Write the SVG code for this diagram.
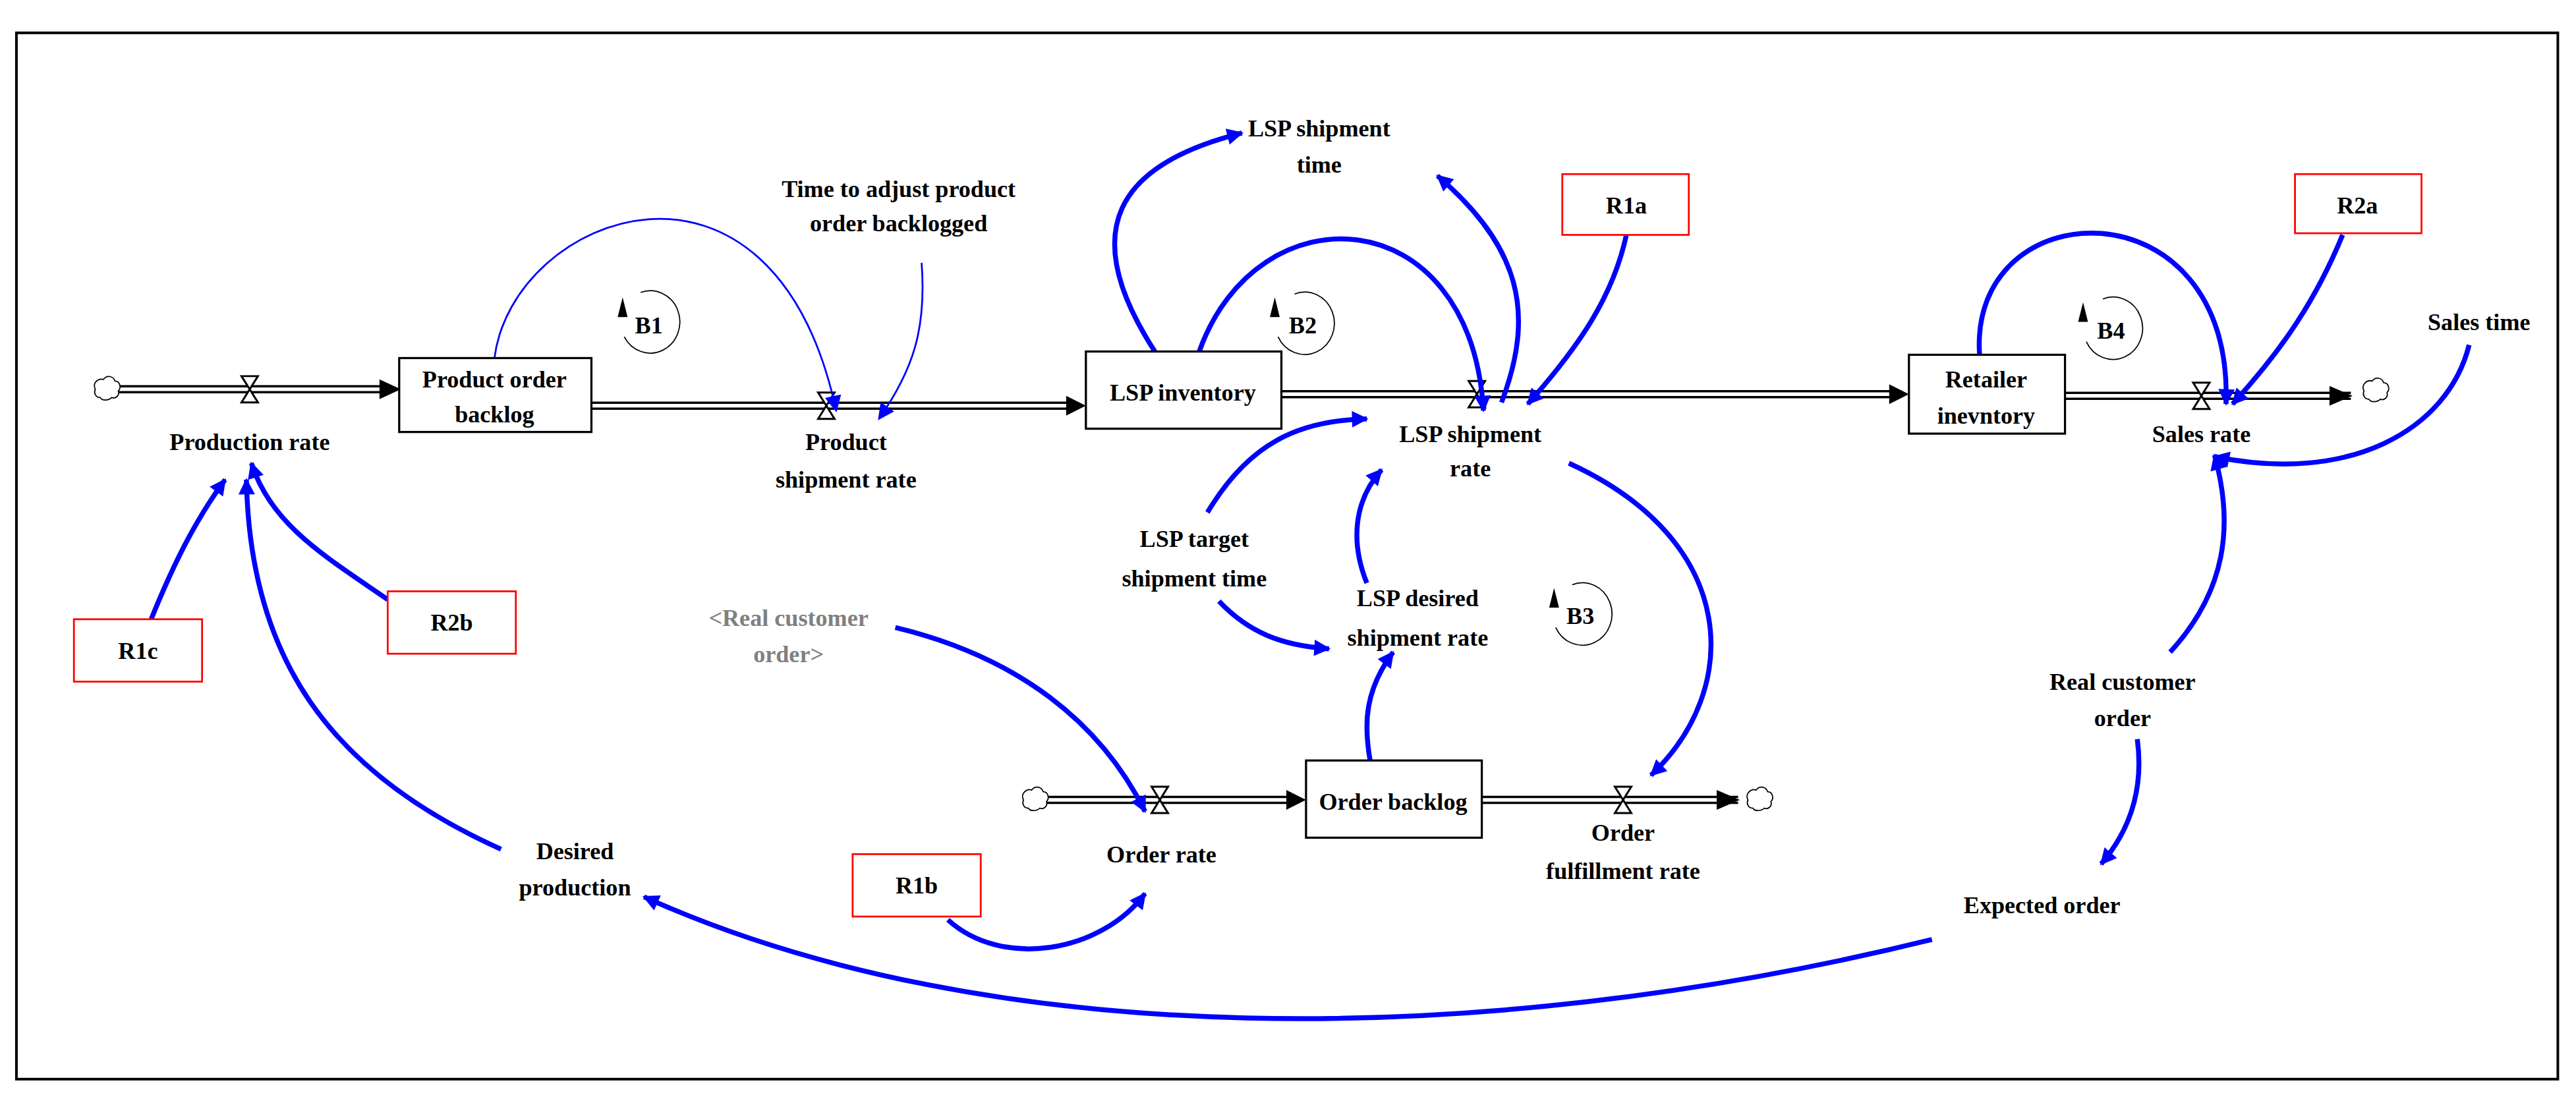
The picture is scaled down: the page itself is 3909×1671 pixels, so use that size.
<svg xmlns="http://www.w3.org/2000/svg" width="3909" height="1671" viewBox="0 0 3909 1671">
<style>
text{font-family:"Liberation Serif","DejaVu Serif",serif;font-weight:bold;font-size:14.5px;fill:#000;text-anchor:middle}
.gray{fill:#808080}
.stock{fill:#fff;stroke:#000;stroke-width:1.3}
.rbox{fill:#fff;stroke:#f00;stroke-width:1.1}
.lk{fill:none;stroke:#0000ff;stroke-width:3;marker-end:url(#ba)}
.thin{stroke-width:1.1}
.po{fill:none;stroke:#000;stroke-width:5}
.pi{fill:none;stroke:#fff;stroke-width:2.2}
.valve{fill:#fff;stroke:#000;stroke-width:1.2}
.cloud{fill:#fff;stroke:#000;stroke-width:0.7}
.loop{fill:none;stroke:#000;stroke-width:0.7}
</style>
<defs>
<marker id="ba" viewBox="0 0 10 10" refX="9" refY="5" markerWidth="14" markerHeight="10" markerUnits="userSpaceOnUse" orient="auto"><path d="M0,0 L10,5 L0,10 Z" fill="#0000ff"/></marker>
</defs>
<rect width="3909" height="1671" fill="#fff"/>
<g transform="scale(2.4929)">
<rect x="10" y="20" width="1547" height="637" fill="none" stroke="#000" stroke-width="1.6"/>
<g id="flows">
<path class="po" d="M72,237 H232"/><path class="pi" d="M72,237 H232"/><path d="M231,231 L244,237 L231,243 Z"/>
<path class="po" d="M360,247 H650"/><path class="pi" d="M360,247 H650"/><path d="M649,241 L661,247 L649,253 Z"/>
<path class="po" d="M780,240 H1151"/><path class="pi" d="M780,240 H1151"/><path d="M1150,234 L1162,240 L1150,246 Z"/>
<path class="po" d="M1257,241 H1431"/><path class="pi" d="M1257,241 H1431"/><path d="M1418,235 L1432,241 L1418,247 Z"/>
<path class="po" d="M636,487 H784"/><path class="pi" d="M636,487 H784"/><path d="M783,481 L795,487 L783,493 Z"/>
<path class="po" d="M902,487 H1058"/><path class="pi" d="M902,487 H1058"/><path d="M1045,481 L1059,487 L1045,493 Z"/>
<path class="valve" d="M147,229 H157 L147,245 H157 Z"/>
<path class="valve" d="M498,239 H508 L498,255 H508 Z"/>
<path class="valve" d="M894,232 H904 L894,248 H904 Z"/>
<path class="valve" d="M1335,233 H1345 L1335,249 H1345 Z"/>
<path class="valve" d="M701,479 H711 L701,495 H711 Z"/>
<path class="valve" d="M983,479 H993 L983,495 H993 Z"/>
<path class="cloud" d="M58,237 c-2,-4 2,-7 5,-6 c2,-3 6,-2 7,1 c3,0 4,4 2,6 c1,3 -2,5 -4,4 c-2,2 -6,2 -7,0 c-3,0 -4,-3 -3,-5 Z"/>
<path class="cloud" d="M1439,238 c-2,-4 2,-7 5,-6 c2,-3 6,-2 7,1 c3,0 4,4 2,6 c1,3 -2,5 -4,4 c-2,2 -6,2 -7,0 c-3,0 -4,-3 -3,-5 Z"/>
<path class="cloud" d="M623,487 c-2,-4 2,-7 5,-6 c2,-3 6,-2 7,1 c3,0 4,4 2,6 c1,3 -2,5 -4,4 c-2,2 -6,2 -7,0 c-3,0 -4,-3 -3,-5 Z"/>
<path class="cloud" d="M1064,487 c-2,-4 2,-7 5,-6 c2,-3 6,-2 7,1 c3,0 4,4 2,6 c1,3 -2,5 -4,4 c-2,2 -6,2 -7,0 c-3,0 -4,-3 -3,-5 Z"/>
</g>
<g id="connectors">
<path class="lk thin" d="M301,218 C312,130 470,70 509,250"/>
<path class="lk thin" d="M561,160 C564,200 556,225 535,255"/>
<path class="lk" d="M92,377 C105,345 118,318 137,292"/>
<path class="lk" d="M305,517 C200,470 152,400 150,292"/>
<path class="lk" d="M236,365 C200,340 165,320 153,282"/>
<path class="lk" d="M703,214 C655,140 680,100 756,81"/>
<path class="lk" d="M730,214 C765,115 895,120 903,250"/>
<path class="lk" d="M914,245 C935,190 925,150 875,107"/>
<path class="lk" d="M990,143 C982,180 962,210 930,246"/>
<path class="lk" d="M735,312 C760,270 790,256 832,255"/>
<path class="lk" d="M742,366 C760,385 780,393 809,395"/>
<path class="lk" d="M832,355 C822,330 824,305 841,286"/>
<path class="lk" d="M834,463 C830,440 831,420 848,397"/>
<path class="lk" d="M955,282 C1060,330 1060,420 1005,472"/>
<path class="lk" d="M545,382 C620,400 670,440 697,494"/>
<path class="lk" d="M577,560 C610,590 670,580 697,544"/>
<path class="lk" d="M1205,216 C1198,115 1360,110 1355,246"/>
<path class="lk" d="M1426,143 C1410,182 1390,212 1359,246"/>
<path class="lk" d="M1503,210 C1490,262 1430,295 1348,278"/>
<path class="lk" d="M1321,397 C1355,360 1360,320 1348,277"/>
<path class="lk" d="M1301,450 C1305,480 1297,505 1279,526"/>
<path class="lk" d="M1176,572 C900,640 600,640 392,546"/>
</g>
<g id="loops">
<g id="B1"><path class="loop" d="M390,178 A18,19 0 1 1 380,205"/><path d="M376,193 L379,181 L382,193 Z"/><text x="395" y="203">B1</text></g>
<g id="B2"><path class="loop" d="M788,179 A18,19 0 1 1 778,205"/><path d="M773,193 L776,181 L779,193 Z"/><text x="793" y="203">B2</text></g>
<g id="B3"><path class="loop" d="M957,356 A18,19 0 1 1 947,382"/><path d="M943,370 L946,358 L949,370 Z"/><text x="962" y="380">B3</text></g>
<g id="B4"><path class="loop" d="M1280,182 A18,19 0 1 1 1270,208"/><path d="M1265,196 L1268,184 L1271,196 Z"/><text x="1285" y="206">B4</text></g>
</g>
<g id="product-order-backlog"><rect class="stock" x="243" y="218" width="117" height="45"/><text x="301" y="236">Product order</text><text x="301" y="257">backlog</text></g>
<g id="lsp-inventory"><rect class="stock" x="661" y="214" width="119" height="47"/><text x="720" y="244">LSP inventory</text></g>
<g id="order-backlog"><rect class="stock" x="795" y="463" width="107" height="47"/><text x="848" y="493">Order backlog</text></g>
<g id="retailer-inventory"><rect class="stock" x="1162" y="216" width="95" height="48"/><text x="1209" y="236">Retailer</text><text x="1209" y="258">inevntory</text></g>
<g id="production-rate"><text x="152" y="274">Production rate</text></g>
<g id="product-shipment-rate"><text x="515" y="274">Product</text><text x="515" y="297">shipment rate</text></g>
<g id="lsp-shipment-rate"><text x="895" y="269">LSP shipment</text><text x="895" y="290">rate</text></g>
<g id="sales-rate"><text x="1340" y="269">Sales rate</text></g>
<g id="order-rate"><text x="707" y="525">Order rate</text></g>
<g id="order-fulfillment-rate"><text x="988" y="512">Order</text><text x="988" y="535">fulfillment rate</text></g>
<g id="time-to-adjust"><text x="547" y="120">Time to adjust product</text><text x="547" y="141">order backlogged</text></g>
<g id="lsp-shipment-time"><text x="803" y="83">LSP shipment</text><text x="803" y="105">time</text></g>
<g id="R1a"><rect class="rbox" x="951" y="106" width="77" height="37"/><text x="990" y="130">R1a</text></g>
<g id="R2a"><rect class="rbox" x="1397" y="106" width="77" height="36"/><text x="1435" y="130">R2a</text></g>
<g id="R1c"><rect class="rbox" x="45" y="377" width="78" height="38"/><text x="84" y="401">R1c</text></g>
<g id="R2b"><rect class="rbox" x="236" y="360" width="78" height="38"/><text x="275" y="384">R2b</text></g>
<g id="R1b"><rect class="rbox" x="519" y="520" width="78" height="38"/><text x="558" y="544">R1b</text></g>
<g id="sales-time"><text x="1509" y="201">Sales time</text></g>
<g id="real-customer-order-shadow"><text class="gray" x="480" y="381">&lt;Real customer</text><text class="gray" x="480" y="403">order&gt;</text></g>
<g id="lsp-target-shipment-time"><text x="727" y="333">LSP target</text><text x="727" y="357">shipment time</text></g>
<g id="lsp-desired-shipment-rate"><text x="863" y="369">LSP desired</text><text x="863" y="393">shipment rate</text></g>
<g id="desired-production"><text x="350" y="523">Desired</text><text x="350" y="545">production</text></g>
<g id="real-customer-order"><text x="1292" y="420">Real customer</text><text x="1292" y="442">order</text></g>
<g id="expected-order"><text x="1243" y="556">Expected order</text></g>
</g>
</svg>
